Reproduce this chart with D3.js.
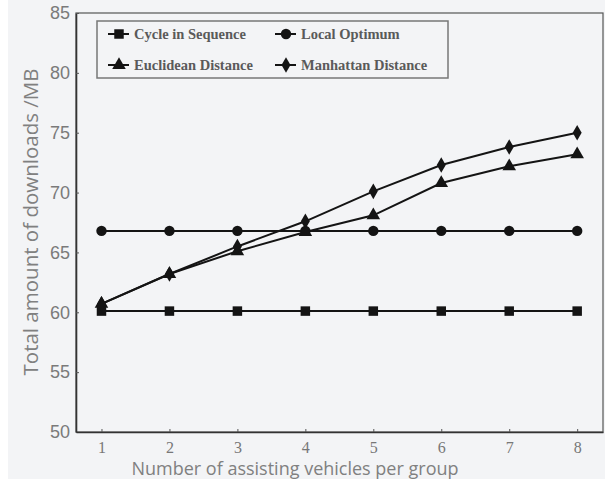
<!DOCTYPE html>
<html>
<head>
<meta charset="utf-8">
<script src="https://cdn.jsdelivr.net/npm/d3@7"></script>
<style>
  html, body { margin: 0; padding: 0; background: #ffffff; }
  svg { display: block; }
</style>
</head>
<body>
<svg id="chart" width="605" height="481"></svg>
<script>
// Group sizes on the x axis
const groupSizes = [1, 2, 3, 4, 5, 6, 7, 8];

// Total downloads (MB) for each strategy
const cycleInSequence   = [60.1, 60.1, 60.1, 60.1, 60.1, 60.1, 60.1, 60.1];
const localOptimum      = [66.8, 66.8, 66.8, 66.8, 66.8, 66.8, 66.8, 66.8];
const euclideanDistance = [60.7, 63.2, 65.1, 66.7, 68.1, 70.8, 72.2, 73.2];
const manhattanDistance = [60.7, 63.2, 65.5, 67.6, 70.1, 72.3, 73.8, 75.0];

const seriesNames = ["Cycle in Sequence", "Local Optimum", "Euclidean Distance", "Manhattan Distance"];
const seriesMarkers = ["square", "circle", "triangle", "diamond"];
const seriesValues = [cycleInSequence, localOptimum, euclideanDistance, manhattanDistance];

const yTicks = [50, 55, 60, 65, 70, 75, 80, 85];

const svg = d3.select("#chart");

// paper background
svg.append("rect").attr("x", 8).attr("y", 0).attr("width", 597).attr("height", 479)
  .attr("fill", "#f3f4f6");

const plot = { left: 76, right: 603, top: 13, bottom: 432 };

const x = d3.scaleLinear().domain([0.625, 8.38]).range([plot.left, plot.right]);
const y = d3.scaleLinear().domain([50, 85]).range([plot.bottom, plot.top]);

// frame
svg.append("rect")
  .attr("x", plot.left).attr("y", plot.top)
  .attr("width", plot.right - plot.left).attr("height", plot.bottom - plot.top)
  .attr("fill", "none").attr("stroke", "#555").attr("stroke-width", 1.2);

// y axis (ticks point inward)
const yAxis = svg.append("g")
  .attr("transform", `translate(${plot.left},0)`)
  .call(d3.axisLeft(y).tickValues(yTicks).tickSizeInner(-3).tickSizeOuter(0).tickPadding(6));
yAxis.select(".domain").attr("stroke", "#333").attr("stroke-width", 1.6);
yAxis.selectAll(".tick line").attr("stroke", "#555");
yAxis.selectAll(".tick text")
  .attr("font-family", "'Liberation Sans', Arial, sans-serif")
  .attr("font-size", 18).attr("fill", "#7a7a7a");

// x axis (ticks point inward)
const xAxis = svg.append("g")
  .attr("transform", `translate(0,${plot.bottom})`)
  .call(d3.axisBottom(x).tickValues(groupSizes).tickSizeInner(-3).tickSizeOuter(0).tickPadding(10));
xAxis.select(".domain").attr("stroke", "#333").attr("stroke-width", 1.6);
xAxis.selectAll(".tick line").attr("stroke", "#555");
xAxis.selectAll(".tick text")
  .attr("font-family", "'Liberation Serif', 'Times New Roman', serif")
  .attr("font-size", 16).attr("fill", "#777");

// axis titles
svg.append("text")
  .attr("x", 295).attr("y", 475)
  .attr("text-anchor", "middle")
  .attr("font-family", "'Open Sans', 'Noto Sans', sans-serif")
  .attr("font-size", 18).attr("fill", "#808080")
  .text("Number of assisting vehicles per group");

svg.append("text")
  .attr("transform", "translate(38,222) rotate(-90)")
  .attr("text-anchor", "middle")
  .attr("font-family", "'Open Sans', 'Noto Sans', sans-serif")
  .attr("font-size", 20.5).attr("fill", "#808080")
  .text("Total amount of downloads /MB");

// marker shapes
const symbolFor = {
  square: d3.symbol().type(d3.symbolSquare).size(90),
  circle: d3.symbol().type(d3.symbolCircle).size(85),
  triangle: d3.symbol().type(d3.symbolTriangle).size(80),
  diamond: d3.symbol().type(d3.symbolDiamond).size(70)
};

const line = d3.line()
  .x((d, i) => x(groupSizes[i]))
  .y(d => y(d));

const lineColor = "#141414";

seriesValues.forEach((vals, si) => {
  const g = svg.append("g");
  g.append("path")
    .attr("d", line(vals))
    .attr("fill", "none").attr("stroke", lineColor).attr("stroke-width", 2);
  g.selectAll("path.pt").data(vals).join("path")
    .attr("class", "pt")
    .attr("transform", (d, i) => `translate(${x(groupSizes[i])},${y(d)})`)
    .attr("d", symbolFor[seriesMarkers[si]]())
    .attr("fill", lineColor);
});

// legend
const legend = svg.append("g");
legend.append("rect")
  .attr("x", 97).attr("y", 21).attr("width", 351).attr("height", 57)
  .attr("fill", "#f3f4f6").attr("stroke", "#777").attr("stroke-width", 1.5);

const legendCols = [108, 275];
const legendRows = [34, 65];
seriesNames.forEach((name, i) => {
  const lx = legendCols[i % 2];
  const ly = legendRows[Math.floor(i / 2)];
  const item = legend.append("g");
  item.append("line")
    .attr("x1", lx).attr("x2", lx + 21).attr("y1", ly).attr("y2", ly)
    .attr("stroke", lineColor).attr("stroke-width", 2);
  item.append("path")
    .attr("transform", `translate(${lx + 11},${ly})`)
    .attr("d", symbolFor[seriesMarkers[i]]())
    .attr("fill", lineColor);
  item.append("text")
    .attr("x", lx + 26).attr("y", ly + 5)
    .attr("font-family", "'Liberation Serif', 'Times New Roman', serif")
    .attr("font-weight", "bold")
    .attr("font-size", 14.5).attr("fill", "#5a5a5a")
    .text(name);
});
</script>
</body>
</html>
